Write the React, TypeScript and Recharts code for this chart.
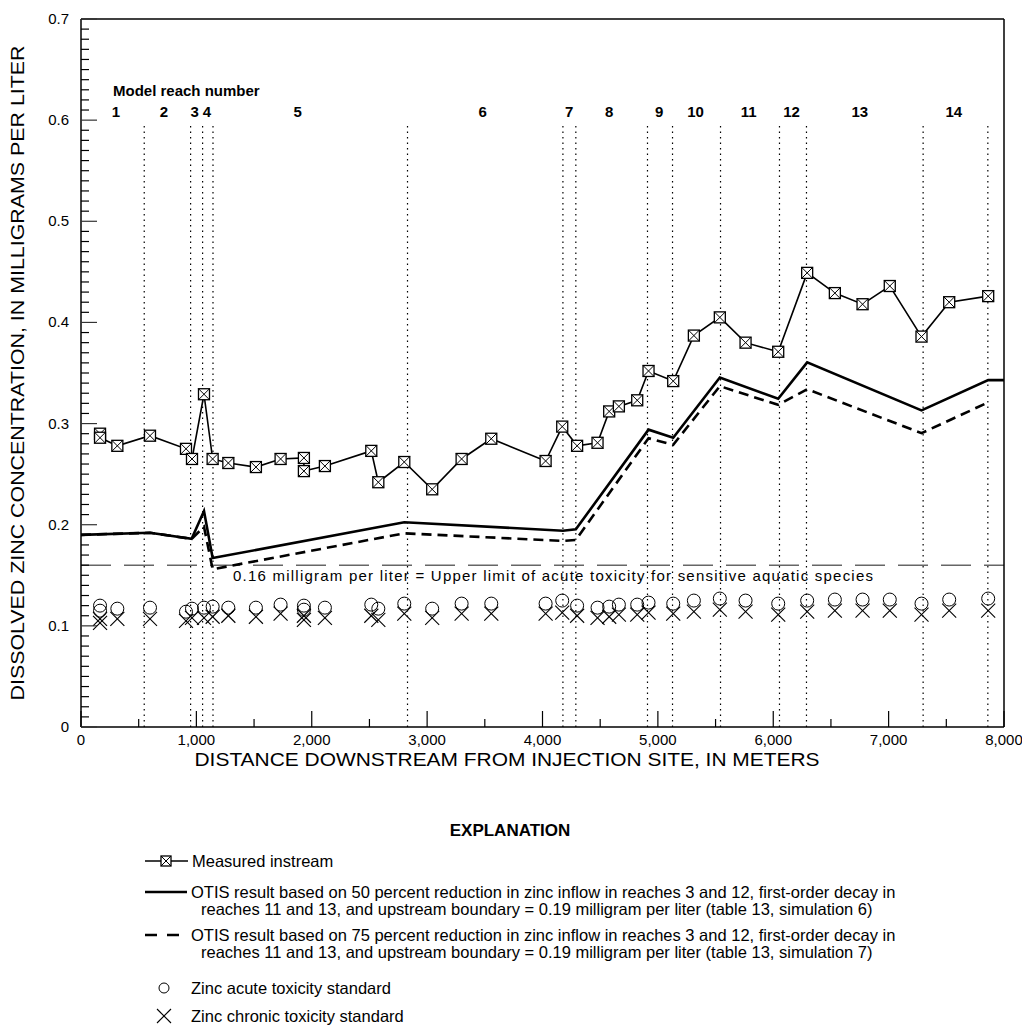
import React from 'react'
import { ComposedChart, Line, Scatter, XAxis, YAxis, ReferenceLine } from 'recharts'

// measured instream zinc, distance (m) and concentration (mg/L)
const measuredDist = [165, 165, 315, 598, 910, 962, 1066, 1141, 1277, 1516, 1730, 1932, 1932, 2114, 2516, 2577, 2802, 3044, 3299, 3556, 4027, 4171, 4300, 4477, 4578, 4662, 4821, 4919, 5133, 5312, 5537, 5760, 6043, 6294, 6534, 6774, 7010, 7285, 7525, 7863]
const measuredConc = [0.29, 0.286, 0.278, 0.288, 0.275, 0.265, 0.329, 0.265, 0.261, 0.257, 0.265, 0.266, 0.253, 0.258, 0.273, 0.242, 0.262, 0.235, 0.265, 0.285, 0.263, 0.297, 0.278, 0.281, 0.312, 0.317, 0.323, 0.352, 0.342, 0.387, 0.405, 0.38, 0.371, 0.449, 0.429, 0.418, 0.436, 0.386, 0.42, 0.426]

// OTIS simulation 6 (50 percent reduction)
const otis50Dist = [0, 598, 959, 1066, 1141, 2802, 4177, 4289, 4919, 5133, 5537, 6043, 6294, 7285, 7863, 8000]
const otis50Conc = [0.19, 0.192, 0.186, 0.2135, 0.167, 0.2025, 0.194, 0.1955, 0.294, 0.286, 0.3455, 0.3245, 0.3605, 0.313, 0.343, 0.343]

// OTIS simulation 7 (75 percent reduction)
const otis75Dist = [0, 598, 959, 1066, 1141, 2802, 4177, 4289, 4919, 5133, 5537, 6043, 6294, 7285, 7863]
const otis75Conc = [0.19, 0.192, 0.186, 0.198, 0.156, 0.1915, 0.184, 0.185, 0.2855, 0.279, 0.337, 0.3185, 0.334, 0.2905, 0.321]

// toxicity standards at sampling sites
const acuteDist = [165, 165, 315, 598, 910, 962, 1066, 1141, 1277, 1516, 1730, 1932, 1932, 2114, 2516, 2577, 2802, 3044, 3299, 3556, 4027, 4171, 4300, 4477, 4578, 4662, 4821, 4919, 5133, 5312, 5537, 5760, 6043, 6294, 6534, 6774, 7010, 7285, 7525, 7863]
const acuteConc = [0.12, 0.115, 0.117, 0.118, 0.114, 0.117, 0.118, 0.119, 0.118, 0.118, 0.121, 0.12, 0.116, 0.118, 0.121, 0.117, 0.122, 0.117, 0.122, 0.122, 0.122, 0.125, 0.12, 0.118, 0.119, 0.121, 0.121, 0.123, 0.122, 0.125, 0.127, 0.125, 0.122, 0.125, 0.126, 0.126, 0.126, 0.122, 0.126, 0.127]
const chronicDist = acuteDist
const chronicConc = [0.103, 0.107, 0.107, 0.107, 0.105, 0.108, 0.108, 0.109, 0.11, 0.109, 0.112, 0.11, 0.106, 0.108, 0.11, 0.106, 0.112, 0.108, 0.112, 0.112, 0.112, 0.113, 0.11, 0.108, 0.109, 0.111, 0.111, 0.113, 0.112, 0.114, 0.116, 0.114, 0.111, 0.114, 0.115, 0.115, 0.115, 0.111, 0.115, 0.115]

// model reach boundaries and labels
const reachBoundaries = [548, 950, 1054, 1144, 2830, 4177, 4289, 4910, 5127, 5543, 6054, 6288, 7299, 7860]
const reachNumbers = ['1', '2', '3', '4', '5', '6', '7', '8', '9', '10', '11', '12', '13', '14']
const reachLabelDist = [303, 719, 985, 1092, 1878, 3481, 4231, 4578, 5011, 5327, 5786, 6159, 6750, 7565]

const xTicks = [0, 500, 1000, 1500, 2000, 2500, 3000, 3500, 4000, 4500, 5000, 5500, 6000, 6500, 7000, 7500, 8000]
const xTickLabels = ['0', '', '1,000', '', '2,000', '', '3,000', '', '4,000', '', '5,000', '', '6,000', '', '7,000', '', '8,000']
const yMajor = [0, 0.1, 0.2, 0.3, 0.4, 0.5, 0.6, 0.7]
const yLabels = ['0', '0.1', '0.2', '0.3', '0.4', '0.5', '0.6', '0.7']
const yTicks = Array.from({ length: 71 }, (_, i) => i / 100)

const ACUTE_LIMIT = 0.16

const L = 81
const R = 1004
const T = 19
const B = 727
const FONT = '"Liberation Sans", Arial, Helvetica, sans-serif'
const LEG = 16.5

const zip = (xs: number[], ys: number[]) => xs.map((x, i) => ({ x, y: ys[i] }))
const measured = zip(measuredDist, measuredConc)
const otis50 = zip(otis50Dist, otis50Conc)
const otis75 = zip(otis75Dist, otis75Conc)
const acute = zip(acuteDist, acuteConc)
const chronic = zip(chronicDist, chronicConc)
const reachLabels = reachNumbers.map((n, i) => ({ x: reachLabelDist[i], y: 0.608, label: n }))

const isMajorY = (v: number) => yMajor.some((m) => Math.abs(m - v) < 1e-6)

function LeftTick(props: any) {
  const { y, payload } = props
  const v = payload.value
  const major = isMajorY(v)
  const idx = yMajor.findIndex((m) => Math.abs(m - v) < 1e-6)
  return (
    <g>
      <line x1={L} x2={L + (major ? 16 : 8)} y1={y} y2={y} stroke={major ? '#333' : '#000'} strokeWidth={1.2} />
      {major && (
        <text x={L - 12} y={y + 5} textAnchor="end" fontSize={15} fontFamily={FONT} fill="#000">
          {yLabels[idx]}
        </text>
      )}
    </g>
  )
}

function RightTick(props: any) {
  const { y, payload } = props
  const major = isMajorY(payload.value)
  return <line x1={R} x2={R - (major ? 16 : 8)} y1={y} y2={y} stroke="#000" strokeWidth={1.2} />
}

function BottomTick(props: any) {
  const { x, payload, index } = props
  const major = payload.value % 1000 === 0
  return (
    <g>
      <line x1={x} x2={x} y1={B} y2={B - (major ? 16 : 8)} stroke="#000" strokeWidth={1.2} />
      <text x={x} y={B + 18} textAnchor="middle" fontSize={15} fontFamily={FONT} fill="#000">
        {xTickLabels[index]}
      </text>
    </g>
  )
}

function TopTick(props: any) {
  const { x, payload } = props
  const major = payload.value % 1000 === 0
  return <line x1={x} x2={x} y1={T} y2={T + (major ? 16 : 8)} stroke="#000" strokeWidth={1.2} />
}

function BoxX({ cx, cy, s = 5.5 }: { cx: number; cy: number; s?: number }) {
  return (
    <g>
      <rect x={cx - s} y={cy - s} width={s * 2} height={s * 2} fill="#fff" stroke="#000" strokeWidth={1.3} />
      <line x1={cx - s} y1={cy - s} x2={cx + s} y2={cy + s} stroke="#000" strokeWidth={1} />
      <line x1={cx - s} y1={cy + s} x2={cx + s} y2={cy - s} stroke="#000" strokeWidth={1} />
    </g>
  )
}

function Circle({ cx, cy }: any) {
  return <circle cx={cx} cy={cy} r={6.5} fill="none" stroke="#000" strokeWidth={1} />
}

function Cross({ cx, cy }: any) {
  const s = 7
  return (
    <g stroke="#000" strokeWidth={1.1}>
      <line x1={cx - s} y1={cy - s} x2={cx + s} y2={cy + s} />
      <line x1={cx - s} y1={cy + s} x2={cx + s} y2={cy - s} />
    </g>
  )
}

function ReachText(props: any) {
  const { cx, cy, payload } = props
  return (
    <text x={cx} y={cy + 5} textAnchor="middle" fontSize={15} fontWeight="bold" fontFamily={FONT} fill="#000">
      {payload.label}
    </text>
  )
}

function LimitLabel(props: any) {
  return (
    <text x={233} y={props.viewBox.y + 16} fontSize={15} fontFamily={FONT} fill="#000" textLength={640}>
      0.16 milligram per liter = Upper limit of acute toxicity for sensitive aquatic species
    </text>
  )
}

export default function App() {
  return (
    <div style={{ position: 'absolute', left: 0, top: 0, width: 1022, height: 1029, background: '#fff' }}>
      <ComposedChart width={1022} height={760} margin={{ top: 18, right: 17, bottom: 0, left: 0 }}>
        <XAxis
          xAxisId={0}
          dataKey="x"
          type="number"
          domain={[0, 8000]}
          ticks={xTicks}
          interval={0}
          allowDataOverflow
          height={33}
          tickSize={0}
          tickLine={false}
          axisLine={{ stroke: '#000', strokeWidth: 1.5 }}
          tick={<BottomTick />}
        />
        <XAxis
          xAxisId="top"
          orientation="top"
          dataKey="x"
          type="number"
          domain={[0, 8000]}
          ticks={xTicks}
          interval={0}
          height={1}
          tickSize={0}
          tickLine={false}
          axisLine={{ stroke: '#000', strokeWidth: 1.5 }}
          tick={<TopTick />}
        />
        <YAxis
          yAxisId={0}
          type="number"
          domain={[0, 0.7]}
          ticks={yTicks}
          interval={0}
          allowDataOverflow
          width={81}
          tickSize={0}
          tickLine={false}
          axisLine={{ stroke: '#000', strokeWidth: 1.5 }}
          tick={<LeftTick />}
        />
        <YAxis
          yAxisId="right"
          orientation="right"
          type="number"
          domain={[0, 0.7]}
          ticks={yTicks}
          interval={0}
          width={1}
          tickSize={0}
          tickLine={false}
          axisLine={{ stroke: '#000', strokeWidth: 1.5 }}
          tick={<RightTick />}
        />

        {reachBoundaries.map((d) => (
          <ReferenceLine
            key={`rb-${d}`}
            segment={[{ x: d, y: 0 }, { x: d, y: 0.598 }]}
            stroke="#000"
            strokeWidth={1.2}
            strokeDasharray="1.5 4"
          />
        ))}
        <ReferenceLine
          y={ACUTE_LIMIT}
          stroke="#666"
          strokeWidth={1.5}
          strokeDasharray="30 13"
          label={<LimitLabel />}
        />

        <Line
          data={otis75}
          dataKey="y"
          type="linear"
          stroke="#000"
          strokeWidth={2.6}
          strokeDasharray="10 6"
          dot={false}
          isAnimationActive={false}
        />
        <Line
          data={otis50}
          dataKey="y"
          type="linear"
          stroke="#000"
          strokeWidth={2.6}
          dot={false}
          isAnimationActive={false}
        />
        <Line
          data={measured}
          dataKey="y"
          type="linear"
          stroke="#000"
          strokeWidth={1.6}
          dot={(p: any) => <BoxX key={`m-${p.index}`} cx={p.cx} cy={p.cy} />}
          isAnimationActive={false}
        />
        <Scatter data={acute} dataKey="y" shape={<Circle />} isAnimationActive={false} />
        <Scatter data={chronic} dataKey="y" shape={<Cross />} isAnimationActive={false} />
        <Scatter data={reachLabels} dataKey="y" shape={<ReachText />} isAnimationActive={false} />
      </ComposedChart>

      <svg width={1022} height={1029} style={{ position: 'absolute', left: 0, top: 0, pointerEvents: 'none' }} fontFamily={FONT}>
        <text x={113} y={96} fontSize={15} fontWeight="bold">Model reach number</text>
        <text
          transform="translate(24 373) rotate(-90)"
          textAnchor="middle"
          fontSize={19}
          textLength={655}
          lengthAdjust="spacingAndGlyphs"
        >
          DISSOLVED ZINC CONCENTRATION, IN MILLIGRAMS PER LITER
        </text>
        <text x={507} y={766} textAnchor="middle" fontSize={19} textLength={625} lengthAdjust="spacingAndGlyphs">
          DISTANCE DOWNSTREAM FROM INJECTION SITE, IN METERS
        </text>

        <text x={510} y={836} textAnchor="middle" fontSize={17} fontWeight="bold">EXPLANATION</text>

        <line x1={145} x2={188} y1={861} y2={861} stroke="#000" strokeWidth={1.3} />
        <BoxX cx={166} cy={861} s={5} />
        <text x={192} y={867} fontSize={LEG}>Measured instream</text>

        <line x1={145} x2={187} y1={892} y2={892} stroke="#000" strokeWidth={2.6} />
        <text x={191} y={898} fontSize={LEG}>
          OTIS result based on 50 percent reduction in zinc inflow in reaches 3 and 12, first-order decay in
        </text>
        <text x={201} y={915} fontSize={LEG}>
          reaches 11 and 13, and upstream boundary = 0.19 milligram per liter (table 13, simulation 6)
        </text>

        <line x1={145} x2={187} y1={935} y2={935} stroke="#000" strokeWidth={2.6} strokeDasharray="12 10" />
        <text x={191} y={941} fontSize={LEG}>
          OTIS result based on 75 percent reduction in zinc inflow in reaches 3 and 12, first-order decay in
        </text>
        <text x={201} y={958} fontSize={LEG}>
          reaches 11 and 13, and upstream boundary = 0.19 milligram per liter (table 13, simulation 7)
        </text>

        <circle cx={164} cy={988} r={5} fill="none" stroke="#000" strokeWidth={1} />
        <text x={191} y={994} fontSize={LEG}>Zinc acute toxicity standard</text>

        <Cross cx={164} cy={1016} />
        <text x={191} y={1022} fontSize={LEG}>Zinc chronic toxicity standard</text>
      </svg>
    </div>
  )
}
